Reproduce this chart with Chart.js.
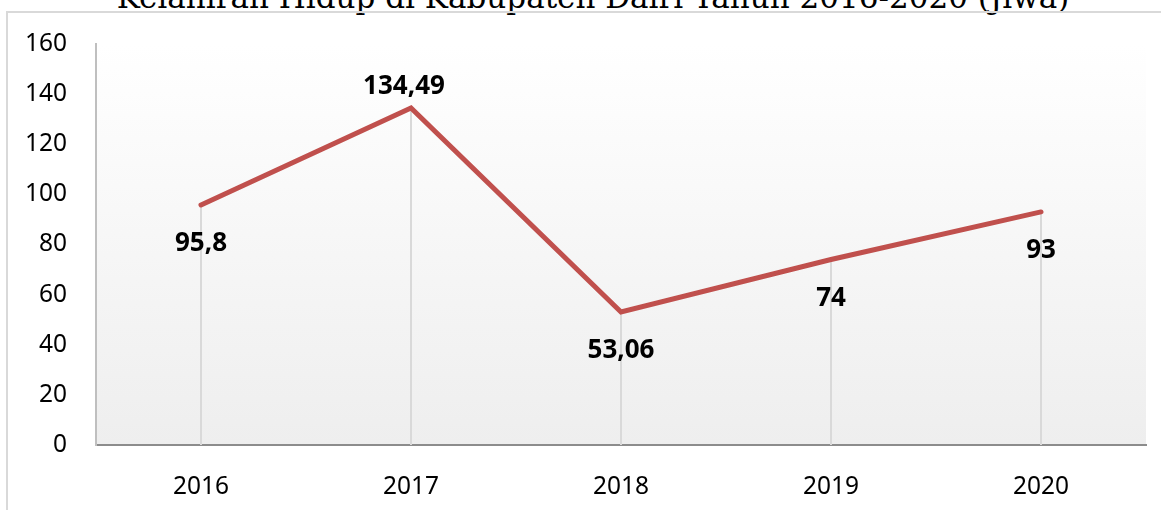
<!DOCTYPE html>
<html>
<head>
<meta charset="utf-8">
<script src="https://cdn.jsdelivr.net/npm/chart.js@4/dist/chart.umd.min.js"></script>
<style>
  html, body { margin: 0; padding: 0; background: #ffffff; overflow: hidden; }
  #wrap { position: relative; width: 1161px; height: 510px; overflow: hidden; }
  #title { position: absolute; left: 0; width: 1186px; top: -18px; text-align: center;
           font: 31px 'DejaVu Serif', serif; line-height: 31px; color: #000; white-space: nowrap; }
  #frame { position: absolute; left: 6px; top: 11px; width: 1200px; height: 600px;
           border-left: 2px solid #d9d9d9; border-top: 2px solid #d9d9d9; }
  #c { position: absolute; left: 0; top: 0; }
</style>
</head>
<body>
<div id="wrap">
  <div id="title">Kelahiran Hidup di Kabupaten Dairi Tahun 2016-2020 (Jiwa)</div>
  <div id="frame"></div>
  <canvas id="c" width="1161" height="510"></canvas>
</div>
<script>
const years = ['2016', '2017', '2018', '2019', '2020'];
const births = [95.8, 134.49, 53.06, 74, 93];
const yTicks = [0, 20, 40, 60, 80, 100, 120, 140, 160];

const labelBelow = [true, false, true, true, true];

const bgPlugin = {
  id: 'bg',
  beforeDraw(chart) {
    const { ctx, chartArea: a } = chart;
    const g = ctx.createLinearGradient(0, a.top, 0, a.bottom);
    g.addColorStop(0, '#ffffff');
    g.addColorStop(1, '#eeeeee');
    ctx.save();
    ctx.fillStyle = g;
    ctx.fillRect(a.left, a.top, a.right - a.left, a.bottom - a.top);
    ctx.restore();
  },
  beforeDatasetsDraw(chart) {
    const { ctx } = chart;
    const meta = chart.getDatasetMeta(0);
    const yScale = chart.scales.y;
    const base = yScale.getPixelForValue(0);
    ctx.save();
    ctx.strokeStyle = '#d9d9d9';
    ctx.lineWidth = 2;
    meta.data.forEach(p => {
      ctx.beginPath();
      ctx.moveTo(Math.round(p.x), p.y);
      ctx.lineTo(Math.round(p.x), base);
      ctx.stroke();
    });
    ctx.restore();
  },
  afterDatasetsDraw(chart) {
    const { ctx } = chart;
    const meta = chart.getDatasetMeta(0);
    ctx.save();
    ctx.font = 'bold 26px "Noto Sans", "Open Sans", sans-serif';
    ctx.fillStyle = '#000000';
    ctx.textAlign = 'center';
    ctx.textBaseline = 'middle';
    meta.data.forEach((p, i) => {
      const txt = String(births[i]).replace('.', ',');
      const y = labelBelow[i] ? p.y + 39 : p.y - 21;
      const x = labelBelow[i] ? p.x : p.x - 7;
      ctx.fillText(txt, x, y);
    });
    ctx.restore();
  }
};

new Chart(document.getElementById('c'), {
  type: 'line',
  data: {
    labels: years,
    datasets: [{
      data: births,
      borderColor: '#c0504d',
      borderWidth: 5,
      borderCapStyle: 'round',
      borderJoinStyle: 'miter',
      pointRadius: 0,
      tension: 0,
      fill: false
    }]
  },
  options: {
    responsive: false,
    animation: false,
    devicePixelRatio: 1,
    layout: { padding: { top: 44, right: 15, bottom: 0, left: 0 } },
    plugins: { legend: { display: false }, tooltip: { enabled: false }, title: { display: false } },
    scales: {
      x: {
        offset: true,
        grid: { display: false, drawTicks: false },
        border: { display: true, color: '#8c8c8c', width: 2 },
        ticks: { color: '#000', font: { family: '"Noto Sans", "Open Sans", sans-serif', size: 24.5 }, padding: 27 },
        afterFit(s) { s.height = 65; }
      },
      y: {
        min: 0, max: 160,
        afterBuildTicks(s) { s.ticks = yTicks.map(v => ({ value: v })); },
        grid: { display: false, drawTicks: false },
        border: { display: true, color: '#bfbfbf', width: 2 },
        ticks: { color: '#000', font: { family: '"Noto Sans", "Open Sans", sans-serif', size: 24.5 }, padding: 29 },
        afterFit(s) { s.width = 96; }
      }
    }
  },
  plugins: [bgPlugin]
});
</script>
</body>
</html>
